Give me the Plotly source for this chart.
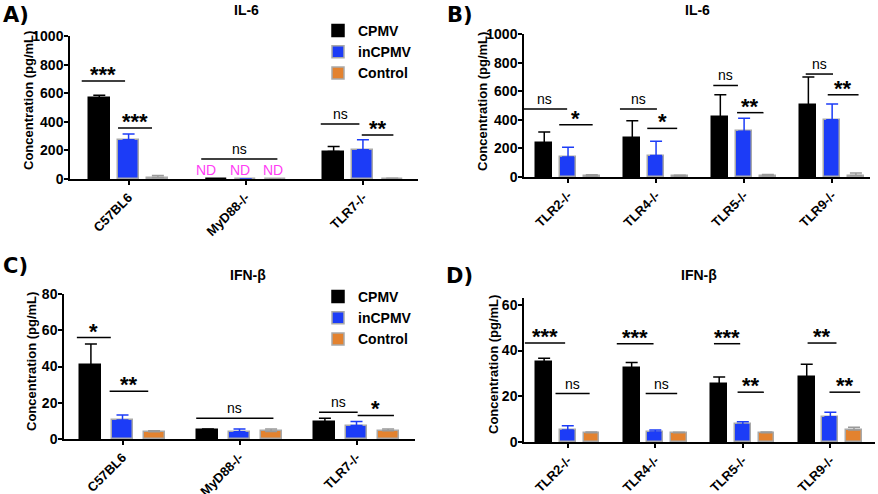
import numpy as np
import plotly.graph_objects as go

FONT = "Liberation Sans, Arial, sans-serif"
C_CPMV = "#000000"
C_IN = "#1c3cf7"
C_CTRL = "#e3822f"
EDGE = "#a9a9a9"

# ---------------------------------------------------------------------------
# Data
# ---------------------------------------------------------------------------
groups_ac = ["C57BL6", "MyD88-/-", "TLR7-/-"]
groups_bd = ["TLR2-/-", "TLR4-/-", "TLR5-/-", "TLR9-/-"]
series = ["CPMV", "inCPMV", "Control"]

# A) IL-6
il6_a_cpmv = [565, 0, 192]
il6_a_cpmv_err = [20, 0, 35]
il6_a_in = [275, 0, 205]
il6_a_in_err = [40, 0, 70]
il6_a_ctrl = [10, 0, 3]
il6_a_ctrl_err = [15, 0, 2]

# B) IL-6
il6_b_cpmv = [238, 275, 420, 505]
il6_b_cpmv_err = [77, 118, 155, 195]
il6_b_in = [140, 150, 320, 400]
il6_b_in_err = [68, 100, 90, 110]
il6_b_ctrl = [5, 5, 8, 10]
il6_b_ctrl_err = [10, 8, 10, 18]

# C) IFN-beta
ifn_c_cpmv = [40.7, 5.0, 9.3]
ifn_c_cpmv_err = [11.7, 0.5, 2.2]
ifn_c_in = [10.5, 4.0, 7.4]
ifn_c_in_err = [2.8, 1.5, 2.2]
ifn_c_ctrl = [4.0, 4.2, 4.6]
ifn_c_ctrl_err = [0.6, 1.3, 0.9]

# D) IFN-beta
ifn_d_cpmv = [35.1, 32.4, 25.5, 28.4]
ifn_d_cpmv_err = [1.5, 2.4, 2.9, 5.6]
ifn_d_in = [5.2, 4.4, 7.7, 11.1]
ifn_d_in_err = [1.9, 0.8, 1.2, 1.9]
ifn_d_ctrl = [4.0, 4.0, 4.0, 5.2]
ifn_d_ctrl_err = [0.4, 0.3, 0.4, 1.2]

# significance brackets: (group, left offset, right offset, height, label)
sig_a = [(0, -0.40, -0.03, 685, "***"), (0, -0.09, 0.20, 357, "***"),
         (1, -0.38, 0.27, 140, "ns"),
         (2, -0.36, -0.03, 385, "ns"), (2, -0.01, 0.26, 308, "**")]
sig_b = [(0, -0.52, -0.01, 475, "ns"), (0, -0.10, 0.28, 365, "*"),
         (1, -0.41, 0.01, 475, "ns"), (1, -0.10, 0.24, 340, "*"),
         (2, -0.35, -0.07, 640, "ns"), (2, -0.08, 0.22, 450, "**"),
         (3, -0.30, 0.01, 720, "ns"), (3, -0.05, 0.30, 575, "**")]
sig_c = [(0, -0.39, -0.10, 56, "*"), (0, -0.11, 0.22, 26.3, "**"),
         (1, -0.37, 0.29, 11.5, "ns"),
         (2, -0.32, 0.01, 14.8, "ns"), (2, 0.01, 0.32, 13, "*")]
sig_d = [(0, -0.49, -0.03, 43.3, "***"), (0, -0.14, 0.25, 21.2, "ns"),
         (1, -0.44, -0.02, 43, "***"), (1, -0.11, 0.25, 21.2, "ns"),
         (2, -0.33, -0.03, 43, "***"), (2, -0.06, 0.24, 21.8, "**"),
         (3, -0.26, 0.07, 43.3, "**"), (3, -0.01, 0.34, 21.8, "**")]

# not-detected markers (panel A, MyD88-/-)
nd_group = 1
nd_label = "ND"
y_title = "Concentration (pg/mL)"

W, H = 878, 494
fig = go.Figure()

panels = [
    dict(ax="", groups=groups_ac, title="IL-6", tag="A)",
         vals=[il6_a_cpmv, il6_a_in, il6_a_ctrl],
         errs=[il6_a_cpmv_err, il6_a_in_err, il6_a_ctrl_err],
         sig=sig_a, xdom=[70, 418], ydom=[179, 36], yr=[0, 1000],
         ytick=[0, 200, 400, 600, 800, 1000], xr=[-0.5, 2.47], off=0.25,
         legend="legend", tpos=(246, 10), tagpos=(1, 15), ypos=(28, 101)),
    dict(ax="2", groups=groups_bd, title="IL-6", tag="B)",
         vals=[il6_b_cpmv, il6_b_in, il6_b_ctrl],
         errs=[il6_b_cpmv_err, il6_b_in_err, il6_b_ctrl_err],
         sig=sig_b, xdom=[524, 870], ydom=[177, 34], yr=[0, 1000],
         ytick=[0, 200, 400, 600, 800, 1000], xr=[-0.5, 3.43], off=0.27,
         legend=None, tpos=(697, 10), tagpos=(445, 15), ypos=(482, 102)),
    dict(ax="3", groups=groups_ac, title="IFN-β", tag="C)",
         vals=[ifn_c_cpmv, ifn_c_in, ifn_c_ctrl],
         errs=[ifn_c_cpmv_err, ifn_c_in_err, ifn_c_ctrl_err],
         sig=sig_c, xdom=[64, 415], ydom=[439, 294], yr=[0, 80],
         ytick=[0, 20, 40, 60, 80], xr=[-0.5, 2.5], off=0.27,
         legend="legend2", tpos=(248, 275), tagpos=(1, 266), ypos=(31, 362)),
    dict(ax="4", groups=groups_bd, title="IFN-β", tag="D)",
         vals=[ifn_d_cpmv, ifn_d_in, ifn_d_ctrl],
         errs=[ifn_d_cpmv_err, ifn_d_in_err, ifn_d_ctrl_err],
         sig=sig_d, xdom=[524, 875], ydom=[442, 298], yr=[0, 63],
         ytick=[0, 20, 40, 60], xr=[-0.5, 3.51], off=0.27,
         legend=None, tpos=(699, 275), tagpos=(444, 276), ypos=(493, 365)),
]

fills = [C_CPMV, C_IN, C_CTRL]
edges = [C_CPMV, EDGE, EDGE]
errc = [C_CPMV, C_IN, "#9a9a9a"]

for p in panels:
    xa, ya = "x" + p["ax"], "y" + p["ax"]
    base = np.arange(len(p["groups"]))
    for k, name in enumerate(series):
        err = np.array(p["errs"][k], dtype=float)
        fig.add_trace(go.Bar(
            x=base + (k - 1) * p["off"], y=p["vals"][k], width=0.18,
            name=name, xaxis=xa, yaxis=ya,
            marker=dict(color=fills[k], line=dict(color=edges[k], width=1.5)),
            error_y=dict(type="data", symmetric=False, array=err,
                         arrayminus=np.zeros_like(err), color=errc[k],
                         thickness=1.5, width=6),
            showlegend=p["legend"] is not None,
            legend=p["legend"] if p["legend"] else "legend",
        ))

    for g, l, r, h, lab in p["sig"]:
        fig.add_shape(type="line", xref=xa, yref=ya, x0=g + l, x1=g + r,
                      y0=h, y1=h, line=dict(color="black", width=1.5))
        star = lab != "ns"
        fig.add_annotation(
            x=g + (l + r) / 2, y=h, xref=xa, yref=ya, text=lab, showarrow=False,
            xanchor="center", yanchor="bottom", yshift=-8 if star else 0,
            font=dict(family=FONT, size=22 if star else 14, color="black",
                      weight="bold" if star else "normal"))

    x0, x1 = p["xdom"]
    yb, yt = p["ydom"]
    lay = {}
    lay["xaxis" + p["ax"]] = dict(
        domain=[x0 / W, x1 / W], anchor=ya, range=p["xr"], automargin=False,
        tickvals=list(range(len(p["groups"]))), ticktext=p["groups"],
        tickangle=-45, ticks="outside", ticklen=4, tickwidth=1.5,
        tickcolor="black", showline=True, linecolor="black", linewidth=1.5,
        showgrid=False, zeroline=False,
        tickfont=dict(family=FONT, size=13, color="black", weight="bold"))
    lay["yaxis" + p["ax"]] = dict(
        domain=[1 - yb / H, 1 - yt / H], anchor=xa, range=p["yr"],
        automargin=False, ticklabelstandoff=-2,
        tickvals=p["ytick"], ticks="outside", ticklen=4, tickwidth=1.5,
        tickcolor="black", showline=True, linecolor="black", linewidth=1.5,
        showgrid=False, zeroline=False,
        tickfont=dict(family=FONT, size=14, color="black", weight="bold"))
    fig.update_layout(**lay)

    # y-axis title
    yx, yy = p["ypos"]
    fig.add_annotation(x=yx / W, y=1 - yy / H, xref="paper", yref="paper",
                       text=y_title, textangle=-90, showarrow=False,
                       xanchor="center", yanchor="middle",
                       font=dict(family=FONT, size=13, color="black", weight="bold"))

    tx, ty = p["tpos"]
    fig.add_annotation(x=tx / W, y=1 - ty / H, xref="paper", yref="paper",
                       text=p["title"], showarrow=False,
                       xanchor="center", yanchor="middle",
                       font=dict(family=FONT, size=14, color="black", weight="bold"))
    gx, gy = p["tagpos"]
    fig.add_annotation(x=gx / W, y=1 - gy / H, xref="paper", yref="paper",
                       text=p["tag"], showarrow=False, xanchor="left", yanchor="middle",
                       font=dict(family="DejaVu Sans, sans-serif", size=21,
                                 color="black", weight="bold"))

# ND labels
for dx in [-0.34, -0.05, 0.23]:
    fig.add_annotation(x=nd_group + dx, y=60, xref="x", yref="y", text=nd_label,
                       showarrow=False, xanchor="center",
                       font=dict(family=FONT, size=14, color="#ff3df5"))

legend_style = dict(xanchor="left", yanchor="top", bgcolor="rgba(0,0,0,0)",
                    font=dict(family=FONT, size=14, color="black", weight="bold"),
                    tracegroupgap=0, itemwidth=30)

fig.update_layout(
    template="none",
    width=W, height=H, margin=dict(l=0, r=0, t=0, b=0, autoexpand=False),
    paper_bgcolor="white", plot_bgcolor="white",
    barmode="overlay", bargap=0,
    legend=dict(x=318 / W, y=1 - 15 / H, **legend_style),
    legend2=dict(x=318 / W, y=1 - 281 / H, **legend_style),
    showlegend=True,
)

# page body has a default 8px margin; remove it so the figure fills the window
fig.write_html("out.html", config={"displayModeBar": False},
               post_script="document.body.style.margin='0px';")
